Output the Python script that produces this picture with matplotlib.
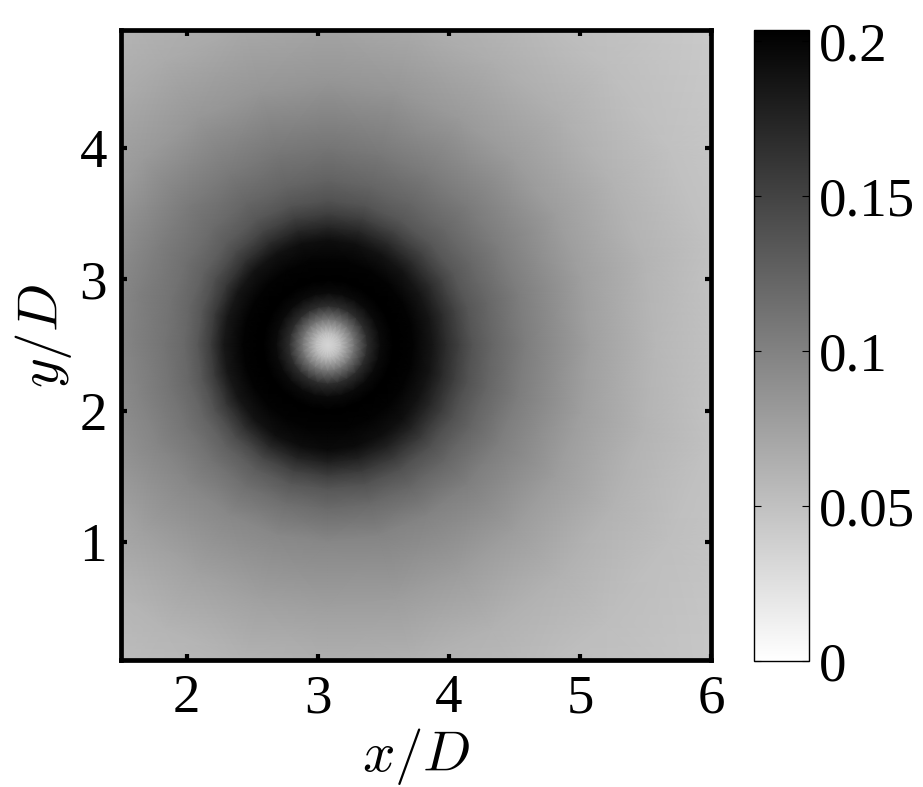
import numpy as np
import matplotlib
matplotlib.use("Agg")
import matplotlib.pyplot as plt

plt.rcParams['mathtext.fontset'] = 'cm'
plt.rcParams['font.family'] = ['Liberation Serif', 'DejaVu Serif']

center_x = 3.08
center_y = 2.50
radii = [0, 0.1, 0.2, 0.3, 0.4, 0.5, 0.65, 0.8, 0.9, 1.0, 1.1, 1.25, 1.5, 2.0, 2.5, 3.0, 4.0]
angles_deg = list(range(0, 361, 15))

# the core looks the same in every direction
core = [26, 56, 112, 168, 195, 204, 201]
outer_000 = [186, 168, 152, 136, 122, 104, 76, 58, 48, 38]
outer_015 = [186, 168, 151, 135, 122, 104, 77, 60, 50, 38]
outer_030 = [186, 168, 150, 134, 121, 104, 78, 61, 50, 39]
outer_045 = [187, 168, 150, 134, 121, 105, 79, 63, 52, 41]
outer_060 = [188, 170, 150, 134, 122, 106, 81, 65, 54, 44]
outer_075 = [190, 172, 152, 136, 123, 108, 84, 67, 57, 47]
outer_090 = [192, 173, 153, 138, 125, 110, 85, 70, 60, 50]
outer_105 = [191, 172, 152, 136, 123, 109, 84, 69, 59, 51]
outer_120 = [189, 168, 148, 134, 122, 107, 83, 67, 58, 50]
outer_135 = [188, 164, 144, 130, 118, 106, 81, 66, 56, 50]
outer_150 = [186, 159, 140, 126, 115, 103, 79, 64, 55, 49]
outer_165 = [184, 156, 134, 122, 112, 102, 79, 63, 54, 47]
outer_180 = [184, 154, 132, 120, 111, 100, 79, 63, 54, 46]
outer_195 = [184, 156, 134, 121, 111, 98, 78, 62, 53, 46]
outer_210 = [186, 160, 138, 123, 111, 97, 77, 61, 53, 45]
outer_225 = [188, 165, 142, 126, 112, 96, 76, 60, 52, 44]
outer_240 = [191, 170, 146, 129, 114, 95, 75, 59, 51, 43]
outer_255 = [193, 173, 150, 132, 115, 95, 76, 60, 51, 43]
outer_270 = [195, 176, 153, 134, 118, 96, 77, 61, 52, 43]
outer_285 = [194, 176, 155, 137, 119, 98, 78, 62, 52, 44]
outer_300 = [192, 176, 156, 138, 121, 99, 78, 62, 53, 45]
outer_315 = [191, 175, 156, 139, 122, 102, 78, 62, 52, 44]
outer_330 = [188, 172, 155, 139, 123, 103, 78, 61, 51, 42]
outer_345 = [187, 170, 153, 138, 123, 104, 77, 60, 50, 40]

x_ticks = [2, 3, 4, 5, 6]
y_ticks = [1, 2, 3, 4]
cbar_ticks = [0, 0.05, 0.1, 0.15, 0.2]
cbar_labels = ['0', '0.05', '0.1', '0.15', '0.2']
v_max = 0.2035

W, H = 923, 787
fig = plt.figure(figsize=(W / 100, H / 100), dpi=100)


def px_axes(x0, x1, y0, y1):
    return fig.add_axes([x0 / W, 1 - y1 / H, (x1 - x0) / W, (y1 - y0) / H])


ax = px_axes(121, 711, 30, 660)
cax = px_axes(753.5, 809, 30, 661)

outer = [outer_000, outer_015, outer_030, outer_045, outer_060, outer_075, outer_090, outer_105,
         outer_120, outer_135, outer_150, outer_165, outer_180, outer_195, outer_210, outer_225,
         outer_240, outer_255, outer_270, outer_285, outer_300, outer_315, outer_330, outer_345,
         outer_000]
field = np.array([core + row for row in outer]) / 1000
rr, aa = np.meshgrid(radii, np.radians(angles_deg))
xx = center_x + rr * np.cos(aa)
yy = center_y + rr * np.sin(aa)
mesh = ax.pcolormesh(xx, yy, field, shading='gouraud', cmap='gray_r', vmin=0, vmax=v_max)

ax.set_xlim(1.5, 6)
ax.set_ylim(0.1, 4.9)
ax.set_xticks(x_ticks)
ax.set_yticks(y_ticks)
ax.set_xticklabels([str(t) for t in x_ticks])
ax.set_yticklabels([str(t) for t in y_ticks])
ax.tick_params(direction='in', length=4.5, width=3, labelsize=39.5, pad=10,
               top=True, right=True)
for s in ax.spines.values():
    s.set_linewidth(3.4)
ax.set_xlabel(r'$x/D$', fontsize=41)
ax.xaxis.set_label_coords(0.5, -0.104, transform=ax.transAxes)
ax.set_ylabel(r'$y/D$', fontsize=41)
ax.yaxis.set_label_coords(-0.08, 0.515, transform=ax.transAxes)

cb = fig.colorbar(mesh, cax=cax)
cb.set_ticks(cbar_ticks)
cb.set_ticklabels(cbar_labels)
cb.outline.set_linewidth(1)
cax.tick_params(direction='in', length=5, width=0.8, labelsize=39.5, pad=7, left=True, right=True)

fig.savefig('out.png', dpi=100)
